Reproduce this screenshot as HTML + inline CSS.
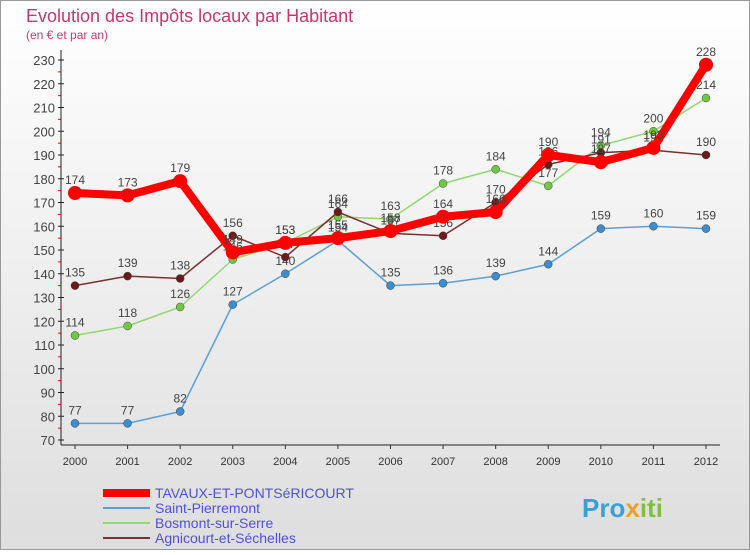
<!DOCTYPE html>
<html><head><meta charset="utf-8"><style>
body{margin:0;width:750px;height:550px;overflow:hidden;font-family:"Liberation Sans",sans-serif}
</style></head><body>
<svg width="750" height="550" viewBox="0 0 750 550" xmlns="http://www.w3.org/2000/svg">
<defs><linearGradient id="bg" x1="0" y1="0" x2="0" y2="1"><stop offset="0" stop-color="#ffffff"/><stop offset="1" stop-color="#dedede"/></linearGradient></defs>
<rect x="0.5" y="0.5" width="749" height="549" fill="url(#bg)" stroke="#999"/>
<text x="26" y="22" font-size="18" fill="#c8366e">Evolution des Impôts locaux par Habitant</text>
<text x="26" y="39" font-size="12" fill="#c8366e">(en € et par an)</text>
<g id="grid"></g><g id="series"></g><g id="legend"></g>
<text x="582" y="517" font-size="26" font-weight="bold" fill="#3aa0d8">Pro<tspan fill="#f0a020">x</tspan><tspan fill="#80c040">iti</tspan></text>
</svg>
<script>
const years=["2000","2001","2002","2003","2004","2005","2006","2007","2008","2009","2010","2011","2012"];
const yTicks=[70,80,90,100,110,120,130,140,150,160,170,180,190,200,210,220,230];
const tavaux=[174,173,179,149,153,155,158,164,166,190,187,193,228];
const saintPierremont=[77,77,82,127,140,154,135,136,139,144,159,160,159];
const bosmont=[114,118,126,146,153,164,163,178,184,177,194,200,214];
const agnicourt=[135,139,138,156,147,166,157,156,170,186,191,192,190];
const NS="http://www.w3.org/2000/svg";
const x0=75,x1=706,yB=440,yT=60,L=61,R=720;
const xs=i=>x0+(x1-x0)*i/(years.length-1);
const ys=v=>yB-(v-70)*(yB-yT)/(230-70);
function mk(t,a,p){const e=document.createElementNS(NS,t);for(const k in a)e.setAttribute(k,a[k]);p.appendChild(e);return e;}
const g=document.getElementById('grid');
yTicks.forEach((v,i)=>{
 mk('line',{x1:L-3,x2:L+3,y1:ys(v),y2:ys(v),stroke:'#222'},g);
 if(i<yTicks.length-1) mk('line',{x1:L-3,x2:L,y1:ys(v+5),y2:ys(v+5),stroke:'#f00'},g);
 const t=mk('text',{x:55,y:ys(v)+5,'font-size':13,'text-anchor':'end',fill:'#444'},g);t.textContent=v;
 
 
});
const ax=mk('line',{x1:L,x2:L,y1:50,y2:445,stroke:'#222'},g);


const xa=mk('line',{x1:L,x2:R,y1:445,y2:445,stroke:'#222'},g);


years.forEach((y,i)=>{
 const t=mk('text',{x:xs(i),y:465,'font-size':11,'text-anchor':'middle',fill:'#333'},g);t.textContent=y;
 
 
 mk('line',{x1:xs(i),x2:xs(i),y1:445,y2:449,stroke:'#333'},g);
});
const S=document.getElementById('series');
const defs=[
 {n:'saint-pierremont',d:saintPierremont,c:'#5a9fd4',w:1.5,r:4,dc:'#3c8cd0'},
 {n:'bosmont-sur-serre',d:bosmont,c:'#90d870',w:1.5,r:4,dc:'#70c840'},
 {n:'agnicourt-et-sechelles',d:agnicourt,c:'#7a3030',w:1.5,r:4,dc:'#6a1a1a'},
 {n:'tavaux',d:tavaux,c:'#ff0000',w:8,r:7,dc:'#ff0000'}];
defs.forEach(s=>{
 const gg=mk('g',{},S);
 
 
 const pl=mk('polyline',{points:s.d.map((v,i)=>xs(i)+','+ys(v)).join(' '),fill:'none',stroke:s.c,'stroke-width':s.w,'stroke-linejoin':'round'},gg);
 
 
 s.d.forEach((v,i)=>{
  const c=mk('circle',{cx:xs(i),cy:ys(v),r:s.r,fill:s.dc,stroke:s.n==='tavaux'?'#ff0000':'#444','stroke-width':s.n==='tavaux'?0:0.5},gg);
  
  
  const t=mk('text',{x:xs(i),y:ys(v)-9,'font-size':12,'text-anchor':'middle',fill:'#444'},gg);t.textContent=v;
  
  
 });
});
const lg=document.getElementById('legend');
const ln=[['TAVAUX-ET-PONTSéRICOURT','#ff0000',8],['Saint-Pierremont','#5a9fd4',2],['Bosmont-sur-Serre','#90d870',2],['Agnicourt-et-Séchelles','#7a3030',2]];
ln.forEach((e,i)=>{
 const y=493+i*15;
 const l=mk('line',{x1:103,x2:150,y1:y,y2:y,stroke:e[1],'stroke-width':e[2]},lg);
 
 
 const t=mk('text',{x:155,y:y+5,'font-size':14,fill:'#5050e0'},lg);t.textContent=e[0];
 
 
});
</script>
</body></html>
